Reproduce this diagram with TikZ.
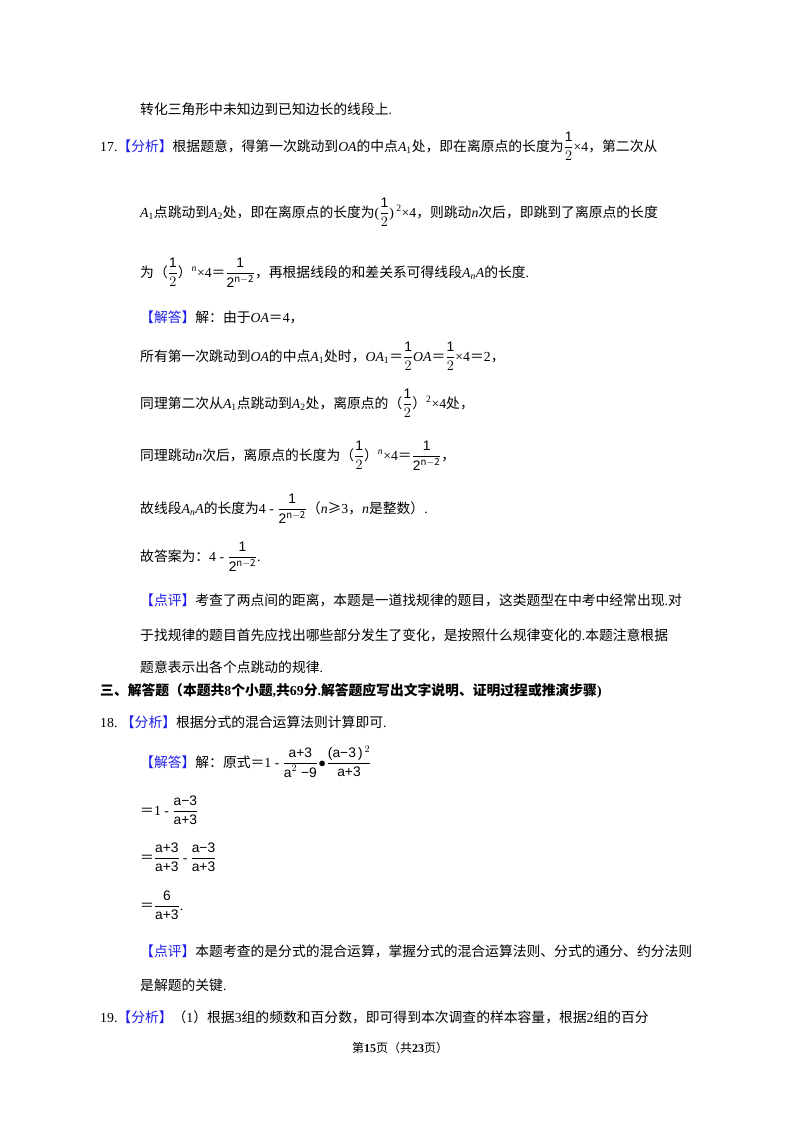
\documentclass[tikz,border=0pt]{standalone}
\usepackage{fontspec}
\setmainfont{Noto Sans CJK SC}
\newfontfamily\lat{Liberation Serif}
\newfontfamily\ar{Liberation Sans}
\definecolor{kw}{RGB}{30,30,230}
\newcommand{\kwd}[1]{\textcolor{kw}{【#1】}}
\newcommand{\A}[1]{{\lat\itshape A}\textsubscript{\lat #1}}
\newcommand{\half}{$\dfrac{\raisebox{0pt}[9pt]{\ar 1}}{\ar 2}$}
\newcommand{\pw}[1]{$\dfrac{\raisebox{0pt}[9pt]{\ar 1}}{\hbox{\ar 2$^{\mathrm{n-2}}$}}$}
\newcommand{\sa}[1]{\hbox{\ar #1}}
\newcommand{\eq}{＝}
\usepackage{amsmath}
\begin{document}
\begin{tikzpicture}[x=1pt,y=-1pt,font=\fontsize{13.8}{16}\selectfont,
  ln/.style={anchor=base west,inner sep=0pt}]
\useasboundingbox (0,0) rectangle (800,1132);
\fill[white] (0,0) rectangle (800,1132);
\node[ln] (l0) at (140,114) {转化三角形中未知边到已知边长的线段上{\lat .}};
\node[ln] (l1) at (100,151) {{\lat 17.}\kwd{分析}根据题意，得第一次跳动到{\lat\itshape OA}的中点\A{1}处，即在离原点的长度为\half{\lat×4}，第二次从};
\node[ln] (l2) at (140,217) {\A{1}点跳动到\A{2}处，即在离原点的长度为{\lat (}\half{\lat )\,\textsuperscript{2}×4}，则跳动{\lat\itshape n}次后，即跳到了离原点的长度};
\node[ln] (l3) at (140,277) {为（\half）{\lat\textsuperscript{\itshape n}×4}\eq\pw{}，再根据线段的和差关系可得线段\A{\itshape n}{\lat\itshape A}的长度{\lat .}};
\node[ln] (l4) at (140,322) {\kwd{解答}解：由于{\lat\itshape OA}\eq{\lat 4}，};
\node[ln] (l5) at (140,361) {所有第一次跳动到{\lat\itshape OA}的中点\A{1}处时，{\lat\itshape OA}\textsubscript{\lat 1}\eq\half{\lat\itshape OA}\eq\half{\lat ×4}\eq{\lat 2}，};
\node[ln] (l6) at (140,408) {同理第二次从\A{1}点跳动到\A{2}处，离原点的（\half）{\lat\textsuperscript{2}×4}处，};
\node[ln] (l7) at (140,460) {同理跳动{\lat\itshape n}次后，离原点的长度为（\half）{\lat\textsuperscript{\itshape n}×4}\eq\pw{}，};
\node[ln] (l8) at (140,513) {故线段\A{\itshape n}{\lat\itshape A}的长度为{\lat 4 - }\pw{}（{\lat\itshape n}≥{\lat 3}，{\lat\itshape n}是整数）{\lat .}};
\node[ln] (l9) at (140,561) {故答案为：{\lat 4 - }\pw{}{\lat .}};
\node[ln] (l10) at (140,605) {\kwd{点评}考查了两点间的距离，本题是一道找规律的题目，这类题型在中考中经常出现{\lat .}对};
\node[ln] (l11) at (140,640) {于找规律的题目首先应找出哪些部分发生了变化，是按照什么规律变化的{\lat .}本题注意根据};
\node[ln] (l12) at (140,672) {题意表示出各个点跳动的规律{\lat .}};
\node[ln] (l13) at (100,695) {\bfseries 三、解答题（本题共{\lat 8}个小题{\lat ,}共{\lat 69}分{\lat .}解答题应写出文字说明、证明过程或推演步骤{\lat )}};
\node[ln] (l14) at (100,727) {{\lat 18.\ }\kwd{分析}根据分式的混合运算法则计算即可{\lat .}};
\node[ln] (l15) at (140,767) {\kwd{解答}解：原式\eq{\lat 1 - }$\dfrac{\sa{a+3}}{\sa{a$^2$ −9}}\!\bullet\!\dfrac{\sa{(a−3\,)$^{\,2}$}}{\sa{a+3}}$};
\node[ln] (l16) at (140,815) {\eq{\lat 1 - }$\dfrac{\sa{a−3}}{\sa{a+3}}$};
\node[ln] (l17) at (140,862) {\eq$\dfrac{\sa{a+3}}{\sa{a+3}}$ {\lat -} $\dfrac{\sa{a−3}}{\sa{a+3}}$};
\node[ln] (l18) at (140,910) {\eq$\dfrac{\sa{6}}{\sa{a+3}}${\lat .}};
\node[ln] (l19) at (140,956) {\kwd{点评}本题考查的是分式的混合运算，掌握分式的混合运算法则、分式的通分、约分法则};
\node[ln] (l20) at (140,990) {是解题的关键{\lat .}};
\node[ln] (l21) at (100,1022) {{\lat 19.}\kwd{分析}（{\lat 1}）根据{\lat 3}组的频数和百分数，即可得到本次调查的样本容量，根据{\lat 2}组的百分};
\node[anchor=base,inner sep=0pt,font=\fontsize{12}{14}\selectfont] (ft) at (400,1052) {第{\bfseries\lat 15}页（共{\bfseries\lat 23}页）};
\end{tikzpicture}
\end{document}
